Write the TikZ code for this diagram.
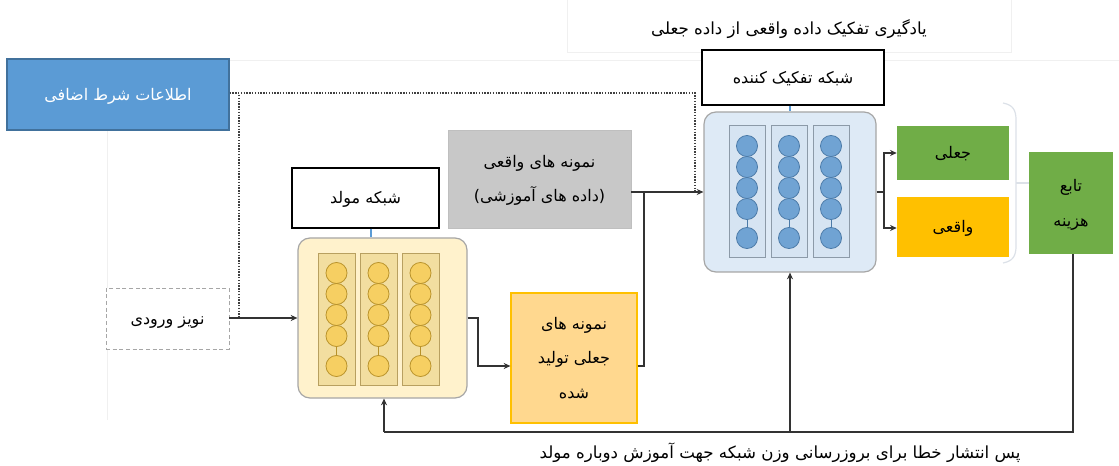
\documentclass[tikz,border=0pt]{standalone}
\usepackage{fontspec}
\newfontfamily\arabicfont[Script=Arabic]{DejaVu Sans}
\TeXXeTstate=1
\usetikzlibrary{arrows.meta,fit}
\newcommand\pers[2][-5.5pt]{\smash{\raisebox{#1}{\beginR #2\endR}}\vphantom{Ag}}
\definecolor{cblue}{HTML}{5B9BD5}
\definecolor{cbluedk}{HTML}{41719C}
\definecolor{genbg}{HTML}{FFF2CC}
\definecolor{gencol}{HTML}{F2DEA0}
\definecolor{gencoldk}{HTML}{B8A060}
\definecolor{gencirc}{HTML}{F6CF62}
\definecolor{gencircdk}{HTML}{B8922A}
\definecolor{discbg}{HTML}{DEEAF6}
\definecolor{disccol}{HTML}{D6E4F2}
\definecolor{disccoldk}{HTML}{8C9AA8}
\definecolor{disccirc}{HTML}{70A3D3}
\definecolor{disccircdk}{HTML}{4C7BA8}
\definecolor{cgray}{HTML}{C8C8C8}
\definecolor{corange}{HTML}{FFD88F}
\definecolor{corangedk}{HTML}{FFC000}
\definecolor{cgreen}{HTML}{70AD47}
\definecolor{cyellow}{HTML}{FFC000}
\definecolor{faint}{HTML}{F0F0F0}
\definecolor{brack}{HTML}{DCE1E8}
\definecolor{linkblue}{HTML}{5B9BD5}
\begin{document}
\begin{tikzpicture}[x=0.75pt,y=-0.75pt,
  box/.style={inner sep=0pt, align=center, font=\arabicfont\fontsize{12}{26}\selectfont},
  ln/.style={line width=1pt, draw=black!80},
  arr/.style={ln, -{Stealth[length=5pt,width=4.5pt]}},
  dots/.style={densely dotted, line width=1.1pt, draw=black!75},
  gcol/.style={fill=gencol, draw=gencoldk, line width=0.6pt},
  gcirc/.style={fill=gencirc, draw=gencircdk, line width=0.6pt},
  dcol/.style={fill=disccol, draw=disccoldk, line width=0.6pt},
  dcirc/.style={fill=disccirc, draw=disccircdk, line width=0.6pt},
  free/.style={font=\arabicfont\fontsize{12.5}{15}\selectfont}
]
\useasboundingbox[fill=white] (0,0) rectangle (1119,466);
% faint background lines
\draw[faint, line width=0.6pt] (229,60) -- (1119,60);
\draw[faint, line width=0.6pt] (107,130) -- (107,420);
\draw[faint, line width=0.6pt] (567,0) -- (567,52) -- (1011,52) -- (1011,0);

% boxes
\node[box, fill=cblue, draw=cbluedk, line width=0.9pt, text=white, fit={(7,59)(229,130)}] (cond) {\pers{اطلاعات شرط اضافی}};
\node[box, fill=white, draw=black!35, densely dashed, line width=0.7pt, fit={(106,288)(229,349)}] (noise) {\pers{نویز ورودی}};
\node[box, fill=white, draw=black, line width=0.9pt, fit={(292,168)(439,228)}] (genlabel) {\pers{شبکه مولد}};
\node[box, fill=genbg, draw=black!35, line width=0.9pt, rounded corners=9pt, fit={(298,238)(467,398)}] (gen) {};
\node[box, fill=cgray, draw=black!25, line width=0.7pt, fit={(448,130)(631,228)}] (real) {\pers{نمونه های واقعی}\\\pers{(داده های آموزشی)}};
\node[box, fill=corange, draw=corangedk, line width=0.9pt, fit={(511,293)(637,423)}] (fake) {\pers{نمونه های}\\\pers{جعلی تولید}\\\pers{شده}};
\node[box, fill=white, draw=black, line width=0.9pt, fit={(702,50)(884,105)}] (disclabel) {\pers{شبکه تفکیک کننده}};
\node[box, fill=discbg, draw=black!35, line width=0.9pt, rounded corners=9pt, fit={(704,112)(876,272)}] (disc) {};
\node[box, fill=cgreen, fit={(897,126)(1009,180)}] (outfake) {\pers{جعلی}};
\node[box, fill=cyellow, fit={(897,197)(1009,257)}] (outreal) {\pers{واقعی}};
\node[box, fill=cgreen, fit={(1029,152)(1113,254)}] (cost) {\pers{تابع}\\\pers{هزینه}};

% generator internals
\foreach \xa/\xb in {318/355,360/397,402/439}{
  \draw[gcol] (\xa,253) rectangle (\xb,385);
  \pgfmathsetmacro\cx{(\xa+\xb)/2}
  \draw[gencircdk, line width=0.6pt] (\cx,336) -- (\cx,366);
  \foreach \cy in {273,294,315,336,366}
    \draw[gcirc] (\cx,\cy) circle[radius=7.9pt];
}
% discriminator internals
\foreach \xa/\xb in {729/765,771/807,813/849}{
  \draw[dcol] (\xa,125) rectangle (\xb,257);
  \pgfmathsetmacro\cx{(\xa+\xb)/2}
  \draw[disccircdk, line width=0.6pt] (\cx,209) -- (\cx,238);
  \foreach \cy in {146,167,188,209,238}
    \draw[dcirc] (\cx,\cy) circle[radius=7.9pt];
}

% texts
\node[free] (title) at (789,28) {\pers[-1.5pt]{یادگیری تفکیک داده واقعی از داده جعلی}};
\node[free] (backtext) at (780,452) {\pers[-1.5pt]{پس انتشار خطا برای بروزرسانی وزن شبکه جهت آموزش دوباره مولد}};

% label links
\draw[linkblue, line width=0.8pt] (genlabel.south -| 371,0) -- (gen.north -| 371,0);
\draw[linkblue, line width=0.8pt] (disclabel.south -| 790,0) -- (disc.north -| 790,0);

% coordinates
\coordinate (dj) at (695,192);
\coordinate (nj) at (239,318);
\coordinate (sj) at (644,192);
\coordinate (oj) at (884,192);
\coordinate (bl) at (384,432);
\coordinate (bm) at (790,432);
\coordinate (br) at (1073,432);

% conditional info (dotted)
\draw[dots] (cond.east |- 0,93) -- (695,93) -- (dj);
\draw[dots] (239,95) -- (nj);

% main flow
\draw[arr] (noise.east |- nj) -- (gen.west |- nj);
\draw[arr] (gen.east |- nj) -- (478,318) -- (478,366) -- (fake.west |- 0,366);
\draw[ln] (fake.east |- 0,366) -- (644,366) -- (sj);
\draw[arr] (real.east |- sj) -- (disc.west |- sj);
\draw[ln] (disc.east |- oj) -- (oj);
\draw[arr] (oj) -- (884,153) -- (outfake.west |- 0,153);
\draw[arr] (oj) -- (884,228) -- (outreal.west |- 0,228);

% bracket
\draw[brack, line width=0.9pt] (1003,103) .. controls (1013,105) and (1016,110) .. (1016,120) -- (1016,246) .. controls (1016,256) and (1013,261) .. (1003,263);
\draw[brack, line width=0.9pt] (1016,183) -- (cost.west |- 0,183);

% backprop
\draw[ln] (cost.south -| br) -- (br) -- (bl);
\draw[arr] (bl) -- (gen.south -| bl);
\draw[arr] (bm) -- (disc.south -| bm);
\end{tikzpicture}
\end{document}
